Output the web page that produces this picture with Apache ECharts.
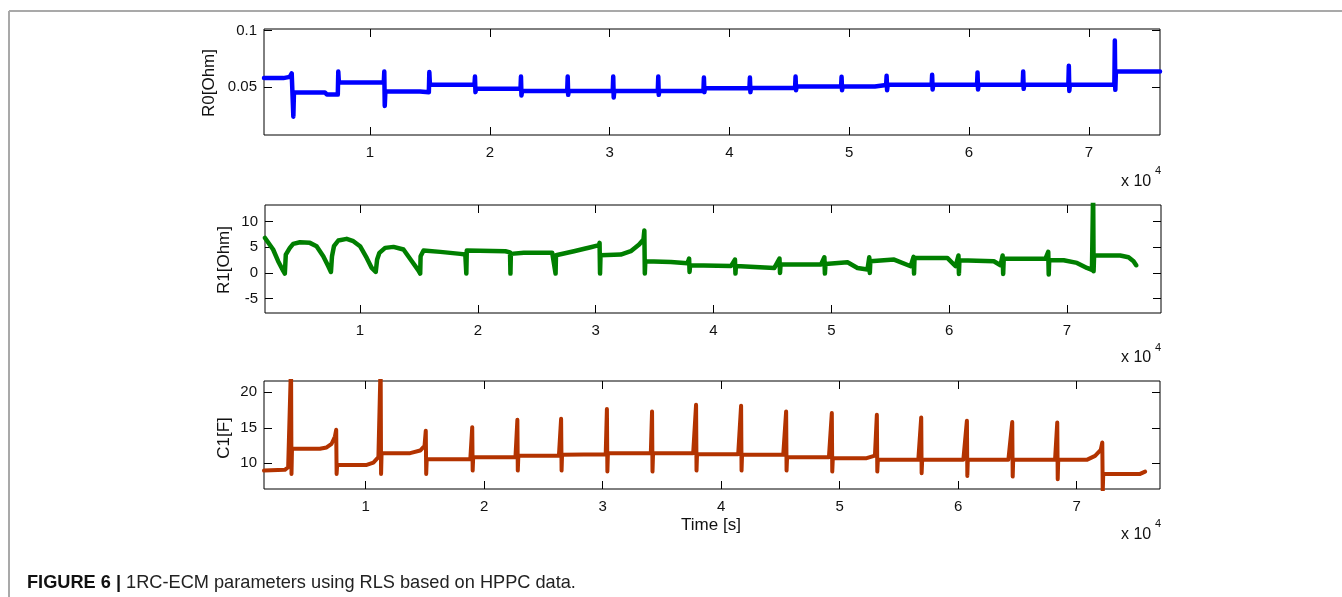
<!DOCTYPE html>
<html>
<head>
<meta charset="utf-8">
<title>1RC-ECM parameters (RLS, HPPC)</title>
<script src="https://cdn.jsdelivr.net/npm/echarts@6/dist/echarts.min.js"></script>
<style>
  html, body { margin: 0; padding: 0; background: #ffffff; }
  #chart { width: 1342px; height: 597px; }
</style>
</head>
<body>
<div id="chart"></div>
<script>
// Time axis ticks (seconds); labels are shown in units of 10^4 s
const timeTicks = [10000, 20000, 30000, 40000, 50000, 60000, 70000];
const r0Ticks = [0.05, 0.1];
const r1Ticks = [-5, 0, 5, 10];
const c1Ticks = [10, 15, 20];

// Ohmic resistance R0 [Ohm] vs time [s]
const r0Data = [
  [1150, 0.0579], [2760, 0.0579], [3300, 0.0590], [3463, 0.0620], [3560, 0.0623],
  [3600, 0.0238], [3650, 0.0452], [6240, 0.0452], [6400, 0.0433], [7310, 0.0433],
  [7350, 0.0637], [7400, 0.0540], [11150, 0.0540], [11190, 0.0637], [11230, 0.0333],
  [11280, 0.0460], [14170, 0.0460], [14300, 0.0453], [14910, 0.0453], [14950, 0.0632],
  [15000, 0.0520], [18720, 0.0520], [18760, 0.0593], [18800, 0.0455], [18850, 0.0484],
  [22560, 0.0484], [22600, 0.0593], [22640, 0.0425], [22690, 0.0466], [26460, 0.0466],
  [26500, 0.0593], [26540, 0.0431], [26590, 0.0466], [30260, 0.0466], [30300, 0.0593],
  [30340, 0.0407], [30390, 0.0466], [34020, 0.0466], [34060, 0.0593], [34100, 0.0431],
  [34150, 0.0466], [37830, 0.0466], [37870, 0.0584], [37910, 0.0455], [37960, 0.0490],
  [41670, 0.0490], [41710, 0.0584], [41750, 0.0455], [41800, 0.0492], [45480, 0.0492],
  [45520, 0.0593], [45560, 0.0472], [45610, 0.0504], [49320, 0.0504], [49360, 0.0590],
  [49400, 0.0472], [49450, 0.0504], [52140, 0.0504], [52200, 0.0515], [53080, 0.0518],
  [53120, 0.0599], [53160, 0.0472], [53210, 0.0520], [56880, 0.0520], [56920, 0.0608],
  [56960, 0.0478], [57010, 0.0520], [60670, 0.0520], [60710, 0.0629], [60750, 0.0478],
  [60800, 0.0520], [64480, 0.0520], [64520, 0.0637], [64560, 0.0484], [64610, 0.0520],
  [68290, 0.0520], [68330, 0.0688], [68370, 0.0466], [68420, 0.0520], [72130, 0.0520],
  [72170, 0.0912], [72210, 0.0475], [72260, 0.0637], [75940, 0.0637]
];

// Polarization resistance R1 [Ohm] vs time [s]
const r1Data = [
  [1934, 6.8], [2624, 4.55], [3050, 2.27], [3418, 0.65], [3617, -0.13], [3674, -0.3],
  [3700, 3.57], [4043, 4.87], [4326, 5.65], [4894, 5.97], [5745, 5.84], [6312, 5.19],
  [6879, 3.25], [7305, 1.30], [7532, 0.19], [7589, -0.13], [7620, 3.25], [7787, 5.19],
  [8156, 6.30], [8865, 6.62], [9433, 6.17], [10000, 5.19], [10567, 2.92], [10993, 0.97],
  [11333, 0.19], [11418, -0.13], [11450, 2.6], [11645, 3.9], [12128, 4.87], [12837, 5.06],
  [13688, 4.55], [14397, 2.27], [14965, 0.45], [15106, -0.13], [15140, 3.25], [15390, 4.35],
  [16809, 4.09], [18511, 3.70], [18936, 3.57], [19021, -0.13], [19060, 4.35], [22340, 4.22],
  [22730, 4.0], [22766, -0.13], [22800, 3.70], [23900, 3.90], [26312, 3.90], [26596, -0.13],
  [26630, 3.44], [28156, 4.22], [29574, 5.0], [30284, 5.39], [30330, 5.84], [30369, -0.13],
  [30410, 3.44], [32128, 3.57], [32979, 4.22], [33688, 5.52], [34057, 6.49], [34130, 8.25],
  [34170, -0.13], [34210, 2.27], [36383, 2.14], [37801, 1.88], [37930, 2.79], [37968, 0.19],
  [38010, 1.49], [41496, 1.36], [41820, 2.6], [41863, -0.13], [41900, 1.36], [45165, 0.97],
  [45600, 2.79], [45645, 0.0], [45690, 1.62], [49117, 1.62], [49410, 3.05], [49455, -0.13],
  [49500, 1.75], [51374, 2.08], [52221, 0.97], [53068, 0.65], [53220, 3.05], [53266, 0.0],
  [53310, 2.27], [55326, 2.6], [56737, 1.30], [56980, 3.12], [57020, -0.13], [57060, 2.92],
  [59842, 2.92], [60548, 1.30], [60790, 3.38], [60830, -0.19], [60870, 2.47], [63793, 2.27],
  [64358, 1.49], [64540, 3.38], [64584, -0.19], [64630, 2.73], [68168, 2.73], [68410, 4.09],
  [68450, -0.32], [68490, 2.47], [69720, 2.47], [70849, 1.95], [71696, 0.97], [72120, 0.58],
  [72220, 16.0], [72260, 0.32], [72300, 3.38], [74518, 3.38], [75224, 3.05], [75647, 2.27],
  [75873, 1.49]
];

// Polarization capacitance C1 [F] vs time [s]
const c1Data = [
  [1418, 8.96], [3174, 9.06], [3456, 9.43], [3700, 24.0], [3738, 8.49], [3780, 12.03],
  [6135, 12.03], [6700, 12.22], [7123, 12.74], [7405, 13.77], [7510, 14.72], [7546, 8.49],
  [7590, 9.76], [10085, 9.76], [10649, 10.09], [11072, 10.85], [11260, 24.0], [11298, 8.49],
  [11340, 11.42], [13752, 11.42], [14598, 11.79], [14965, 12.45], [15070, 14.58], [15106, 8.49],
  [15150, 10.57], [18829, 10.57], [18990, 15.09], [19027, 8.96], [19070, 10.85], [22638, 10.85],
  [22800, 16.13], [22835, 8.96], [22880, 11.04], [26305, 11.04], [26490, 16.27], [26530, 8.96],
  [26570, 11.18], [30254, 11.25], [30355, 17.64], [30395, 8.82], [30440, 11.42], [34062, 11.42],
  [34165, 17.31], [34203, 8.82], [34250, 11.42], [37636, 11.42], [37880, 18.25], [37917, 8.96],
  [37960, 11.27], [41435, 11.27], [41680, 18.11], [41717, 8.96], [41760, 11.18], [45235, 11.18],
  [45480, 17.31], [45516, 8.96], [45560, 10.85], [49091, 10.85], [49335, 17.08], [49372, 8.82],
  [49420, 10.71], [52271, 10.71], [52975, 11.08], [53135, 16.84], [53172, 8.82], [53220, 10.47],
  [56634, 10.47], [56880, 16.46], [56915, 8.58], [56960, 10.47], [60433, 10.47], [60735, 15.99],
  [60771, 8.21], [60810, 10.47], [64233, 10.47], [64560, 15.80], [64599, 8.11], [64640, 10.47],
  [68173, 10.47], [68360, 15.75], [68398, 7.74], [68440, 10.47], [70847, 10.47], [71551, 11.04],
  [72029, 11.89], [72160, 12.92], [72198, 6.0], [72240, 8.49], [75350, 8.49], [75772, 8.82]
];

const FONT = "'Liberation Sans', Arial, Helvetica, sans-serif";
const TEXT_COLOR = '#111111';

const panels = [
  { grid: { left: 264, top: 29, width: 896, height: 106 }, xMin: 1150, xMax: 75940,
    yMin: 0.0076, yMax: 0.1013, yTicks: r0Ticks, data: r0Data, color: '#0000ff', width: 4.5 },
  { grid: { left: 265, top: 205, width: 896, height: 108 }, xMin: 1934, xMax: 77980,
    yMin: -7.79, yMax: 13.2, yTicks: r1Ticks, data: r1Data, color: '#007f00', width: 4.5 },
  { grid: { left: 264, top: 381, width: 896, height: 108 }, xMin: 1418, xMax: 77030,
    yMin: 6.36, yMax: 21.6, yTicks: c1Ticks, data: c1Data, color: '#b33300', width: 4 }
];

const tickStyle = { inside: true, length: 8, lineStyle: { color: '#000', width: 1 } };
const hiddenLine = { show: false, onZero: false };

const grids = [], xAxes = [], yAxes = [], series = [];
panels.forEach((p, i) => {
  grids.push(Object.assign({ show: true, borderColor: '#000', borderWidth: 1,
    backgroundColor: 'transparent' }, p.grid));
  // bottom / left axes carry the labels; top / right axes only mirror the ticks
  xAxes.push({
    gridIndex: i, type: 'value', position: 'bottom', min: p.xMin, max: p.xMax,
    axisLine: hiddenLine, splitLine: { show: false },
    axisTick: Object.assign({ customValues: timeTicks }, tickStyle),
    axisLabel: { customValues: timeTicks, formatter: v => String(v / 10000),
      fontFamily: FONT, fontSize: 15, color: TEXT_COLOR, margin: 10 }
  });
  xAxes.push({
    gridIndex: i, type: 'value', position: 'top', min: p.xMin, max: p.xMax,
    axisLine: hiddenLine, splitLine: { show: false },
    axisTick: Object.assign({ customValues: timeTicks }, tickStyle),
    axisLabel: { show: false }
  });
  yAxes.push({
    gridIndex: i, type: 'value', position: 'left', min: p.yMin, max: p.yMax,
    axisLine: hiddenLine, splitLine: { show: false },
    axisTick: Object.assign({ customValues: p.yTicks }, tickStyle),
    axisLabel: { customValues: p.yTicks, fontFamily: FONT, fontSize: 15,
      color: TEXT_COLOR, margin: 7 }
  });
  yAxes.push({
    gridIndex: i, type: 'value', position: 'right', min: p.yMin, max: p.yMax,
    axisLine: hiddenLine, splitLine: { show: false },
    axisTick: Object.assign({ customValues: p.yTicks }, tickStyle),
    axisLabel: { show: false }
  });
  series.push({
    type: 'line', xAxisIndex: i * 2, yAxisIndex: i * 2, data: p.data,
    showSymbol: false, symbol: 'none', clip: true,
    lineStyle: { color: p.color, width: p.width, cap: 'round', join: 'round' },
    itemStyle: { color: p.color }
  });
});

function label(x, y, text, size, opts) {
  return Object.assign({
    type: 'text', x: x, y: y, silent: true,
    style: Object.assign({ text: text, fontFamily: FONT, fontSize: size, fill: TEXT_COLOR,
      align: 'left', verticalAlign: 'middle' }, (opts && opts.style) || {})
  }, (opts && opts.el) || {});
}

const vertical = { el: { rotation: Math.PI / 2 }, style: { align: 'center', verticalAlign: 'middle' } };

const graphics = [
  // page frame
  { type: 'line', silent: true, shape: { x1: 9, y1: 11, x2: 1342, y2: 11 },
    style: { stroke: '#a9a9a9', lineWidth: 2 } },
  { type: 'line', silent: true, shape: { x1: 9, y1: 11, x2: 9, y2: 597 },
    style: { stroke: '#a9a9a9', lineWidth: 2 } },
  // axis titles
  label(209, 83, 'R0[Ohm]', 17, vertical),
  label(224, 260, 'R1[Ohm]', 17, vertical),
  label(224, 438, 'C1[F]', 17, vertical),
  label(711, 525, 'Time [s]', 17, { style: { align: 'center' } }),
  // exponent markers for the time axis
  label(1121, 182, 'x 10', 16), label(1155, 171, '4', 11),
  label(1121, 358, 'x 10', 16), label(1155, 348, '4', 11),
  label(1121, 535, 'x 10', 16), label(1155, 524, '4', 11),
  // caption
  {
    type: 'text', x: 27, y: 583, silent: true,
    style: {
      text: '{b|FIGURE 6 |} 1RC-ECM parameters using RLS based on HPPC data.',
      fontFamily: FONT, fontSize: 18.2, fill: '#222222', align: 'left', verticalAlign: 'middle',
      rich: { b: { fontFamily: FONT, fontSize: 18.2, fontWeight: 'bold', fill: '#111111' } }
    }
  }
];

const chart = echarts.init(document.getElementById('chart'), null, { renderer: 'canvas' });
chart.setOption({
  animation: false,
  backgroundColor: '#ffffff',
  grid: grids,
  xAxis: xAxes,
  yAxis: yAxes,
  series: series,
  graphic: graphics
});
</script>
</body>
</html>
